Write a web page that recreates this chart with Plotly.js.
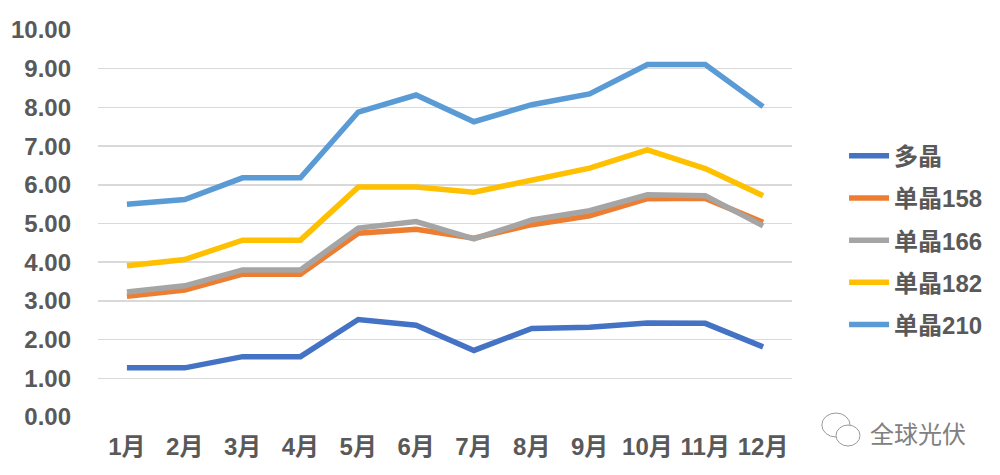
<!DOCTYPE html>
<html>
<head>
<meta charset="utf-8">
<script src="https://cdn.plot.ly/plotly-3.0.1.min.js"></script>
<style>html,body{margin:0;padding:0;background:#fff;}#chart{width:1000px;height:475px;}</style>
</head>
<body>
<div id="chart"></div>
<script>
const months = ['1月','2月','3月','4月','5月','6月','7月','8月','9月','10月','11月','12月'];
const seriesNames = ['多晶','单晶158','单晶166','单晶182','单晶210'];
const poly    = [1.27,1.27,1.56,1.56,2.52,2.37,1.72,2.29,2.32,2.43,2.42,1.81];
const mono158 = [3.12,3.28,3.69,3.69,4.75,4.85,4.62,4.97,5.20,5.64,5.65,5.03];
const mono166 = [3.23,3.39,3.80,3.80,4.88,5.05,4.60,5.09,5.33,5.74,5.72,4.94];
const mono182 = [3.91,4.07,4.57,4.57,5.94,5.94,5.81,6.12,6.43,6.90,6.42,5.72];
const mono210 = [5.50,5.62,6.18,6.18,7.88,8.32,7.63,8.07,8.35,9.11,9.11,8.02];
const colors = ['#4472C4','#ED7D31','#A5A5A5','#FFC000','#5B9BD5'];

const allSeries = [poly, mono158, mono166, mono182, mono210];
const fam = 'Liberation Sans, Arial, "Noto Sans CJK SC", sans-serif';
const font = {family: fam, size: 24, color: '#595959', weight: 'bold'};

const traces = allSeries.map((ys, i) => ({
  type: 'scatter', mode: 'lines', name: seriesNames[i], legendgroup: 'g' + i,
  x: months, y: ys,
  line: {color: colors[i], width: 5.5}
}));

const layout = {
  width: 1000, height: 475,
  margin: {l: 98, r: 208, t: 30, b: 58},
  paper_bgcolor: '#fff', plot_bgcolor: '#fff',
  font: font,
  showlegend: true,
  legend: {x: 1.075, xanchor: 'left', y: 0.457, yanchor: 'middle', font: font, tracegroupgap: 8, itemwidth: 40, traceorder: 'grouped'},
  xaxis: {type: 'category', range: [-0.5, 11.5], showgrid: false, zeroline: false, showline: false, ticks: '', tickfont: font, ticklabelstandoff: 13},
  yaxis: {range: [0, 10], dtick: 1, tick0: 0, tickformat: '.2f', showgrid: true, gridcolor: '#D9D9D9', gridwidth: 1.5, zeroline: false, showline: false, ticks: '', tickfont: font, ticklabelstandoff: 26},
  annotations: [{xref: 'paper', yref: 'paper', x: 1.1095, y: -0.0388, xanchor: 'left', yanchor: 'middle', showarrow: false, text: '全球光伏', font: {family: '"Noto Sans CJK SC", sans-serif', size: 24, color: '#808080', weight: 'normal'}}],
  shapes: [
    {type: 'circle', xref: 'paper', yref: 'paper', x0: 1.043, x1: 1.0836, y0: -0.0517, y1: 0.0103, line: {color: '#999', width: 1}, fillcolor: 'rgba(255,255,255,0)'},
    {type: 'circle', xref: 'paper', yref: 'paper', x0: 1.0634, x1: 1.098, y0: -0.075, y1: -0.0207, line: {color: '#999', width: 1}, fillcolor: '#fff'}
  ]
};

Plotly.newPlot('chart', traces, layout, {displayModeBar: false, staticPlot: true});
</script>
</body>
</html>
